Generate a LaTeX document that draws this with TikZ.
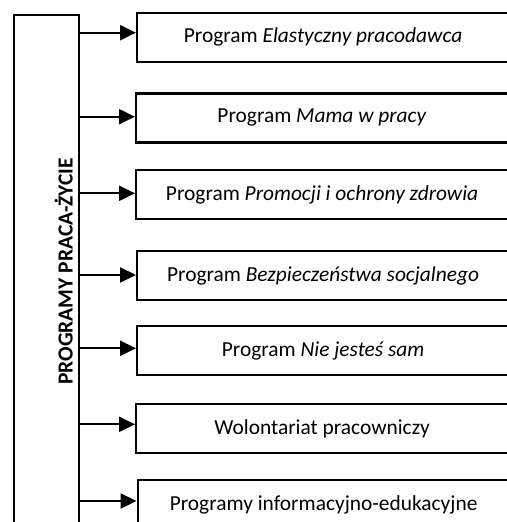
\documentclass[tikz,border=0pt]{standalone}
\usepackage{fontspec}
\setmainfont{Carlito}
\usetikzlibrary{arrows.meta}
\tikzset{
  boxnode/.style={draw=black, line width=2.2pt, rectangle, minimum width=372pt, minimum height=49pt, anchor=north west, inner sep=0pt, font=\fontsize{21.4}{24}\selectfont},
  leftbox/.style={draw=black, line width=2.2pt, rectangle, minimum width=65pt, minimum height=540pt, anchor=north west, inner sep=0pt},
  arr/.style={line width=2.2pt, -{Triangle[length=16pt,width=15pt]}},
  vlabel/.style={rotate=90, anchor=base, inner sep=0pt, font=\fontsize{21.5}{24}\selectfont\bfseries}
}
\begin{document}
\begin{tikzpicture}[x=1pt,y=-1pt]
\useasboundingbox (0,0) rectangle (506,522);
\node[leftbox] (L) at (12.5,14) {};
\node[vlabel] (lab) at (72.5,271.5) {PROGRAMY PRACA-ŻYCIE};
\node[boxnode] (b1) at (136,11.7) {Program \textit{Elastyczny pracodawca}};
\node[boxnode] (b2) at (135,92.3) {Program \textit{Mama w pracy}};
\node[boxnode] (b3) at (135,169) {Program \textit{Promocji i ochrony zdrowia}};
\node[boxnode] (b4) at (136,250) {Program \textit{Bezpieczeństwa socjalnego}};
\node[boxnode] (b5) at (136,325) {Program \textit{Nie jesteś sam}};
\node[boxnode] (b6) at (135,402.7) {Wolontariat pracowniczy};
\node[boxnode] (b7) at (136.5,479) {Programy informacyjno-edukacyjne};
\coordinate (a1) at (0,32.7);
\coordinate (a2) at (0,116.7);
\coordinate (a3) at (0,193.3);
\coordinate (a4) at (0,275);
\coordinate (a5) at (0,348.3);
\coordinate (a6) at (0,424.3);
\coordinate (a7) at (0,501);
\draw[arr] (a1 -| L.east) -- (a1 -| b1.west);
\draw[arr] (a2 -| L.east) -- (a2 -| b2.west);
\draw[arr] (a3 -| L.east) -- (a3 -| b3.west);
\draw[arr] (a4 -| L.east) -- (a4 -| b4.west);
\draw[arr] (a5 -| L.east) -- (a5 -| b5.west);
\draw[arr] (a6 -| L.east) -- (a6 -| b6.west);
\draw[arr] (a7 -| L.east) -- (a7 -| b7.west);
\end{tikzpicture}
\end{document}
